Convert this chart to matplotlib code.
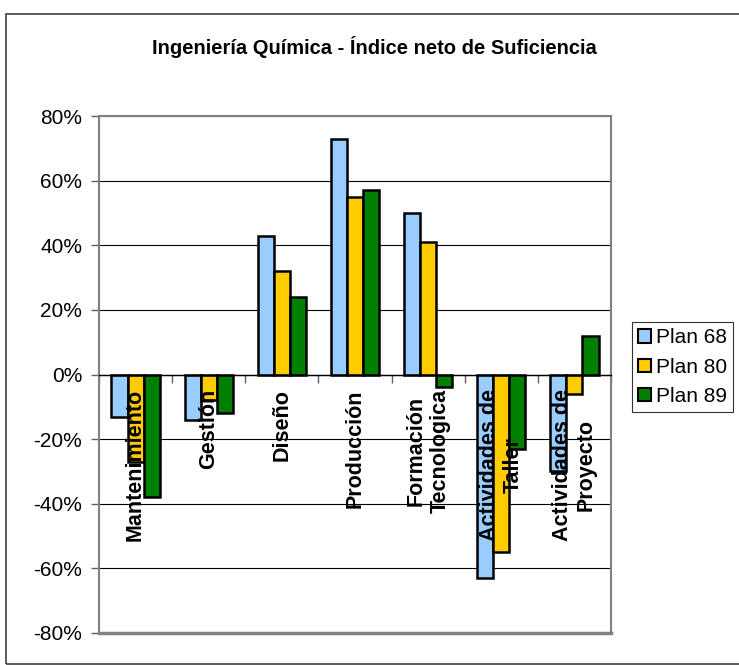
import numpy as np
import matplotlib.pyplot as plt
from matplotlib.patches import Rectangle
from matplotlib.ticker import FuncFormatter

plt.rcParams['font.family'] = ['Liberation Sans', 'DejaVu Sans']

# data
categories = ["Mantenimiento", "Gestión", "Diseño", "Producción",
              "Formación\nTecnologica", "Actividades de\nTaller", "Actividades de\nProyecto"]
series = ["Plan 68", "Plan 80", "Plan 89"]
plan68 = [-0.13, -0.14, 0.43, 0.73, 0.50, -0.63, -0.30]
plan80 = [-0.27, -0.08, 0.32, 0.55, 0.41, -0.55, -0.06]
plan89 = [-0.38, -0.12, 0.24, 0.57, -0.04, -0.23, 0.12]
colors = ["#99CCFF", "#FFCC00", "#008000"]

fig = plt.figure(figsize=(7.39, 6.65), dpi=100)
W, H = 739, 665

# outer chart border
fig.patches.append(Rectangle((6 / W, 1 - 664 / H), 1.0, (664 - 14) / H,
                             transform=fig.transFigure, fill=False,
                             edgecolor='#404040', linewidth=1.2))

ax = fig.add_axes([99 / W, 1 - 633 / H, (611 - 99) / W, (633 - 116) / H])

x = np.arange(len(categories))
w = 0.22
for k, (vals, name) in enumerate(zip([plan68, plan80, plan89], series)):
    ax.bar(x + (k - 1) * w, vals, width=w, color=colors[k], edgecolor='black',
           linewidth=1.8, label=name, zorder=3)

ax.set_xlim(-0.5, len(categories) - 0.5)
ax.set_ylim(-0.8, 0.8)
ax.set_yticks(np.arange(-0.8, 0.81, 0.2))
ax.yaxis.set_major_formatter(FuncFormatter(lambda v, p: f"{round(v * 100):d}%"))
ax.tick_params(axis='y', direction='out', length=6, width=1, color='#606060',
               labelsize=15, pad=6)
ax.yaxis.grid(True, color='black', linewidth=0.8)
ax.set_axisbelow(True)

# x axis runs along zero
ax.spines['bottom'].set_position(('data', 0))
ax.spines['bottom'].set_color('black')
ax.spines['bottom'].set_linewidth(1.0)
ax.spines['bottom'].set_zorder(4)
for s in ['left', 'right', 'top']:
    ax.spines[s].set_color('#808080')
    ax.spines[s].set_linewidth(1.5)
ax.plot([0, 1], [0, 0], transform=ax.transAxes, color='#808080', lw=2.5, clip_on=False)
ax.set_xticks(np.arange(-0.5, len(categories) + 0.5, 1.0))
ax.set_xticklabels([])
ax.tick_params(axis='x', direction='out', length=6, width=1, color='#606060')

for i, lab in enumerate(categories):
    ax.text(i, -0.045, lab, rotation=90, ha='center', va='top', multialignment='center',
            fontsize=15.5, fontweight='bold', zorder=5, linespacing=1.2)

fig.text(374 / W, 1 - 47 / H, "Ingeniería Química - Índice neto de Suficiencia",
         ha='center', va='center', fontsize=14.5, fontweight='bold')

leg = fig.legend(loc='upper left', bbox_to_anchor=(632 / W, 1 - 322 / H),
                 fontsize=15, frameon=True, fancybox=False, edgecolor='black',
                 handlelength=0.6, handleheight=0.6, handletextpad=0.25,
                 borderpad=0.3, labelspacing=0.5, borderaxespad=0)
leg.get_frame().set_linewidth(0.8)
for h in leg.legend_handles:
    h.set_linewidth(1.5)

fig.savefig("out.png", dpi=100)
